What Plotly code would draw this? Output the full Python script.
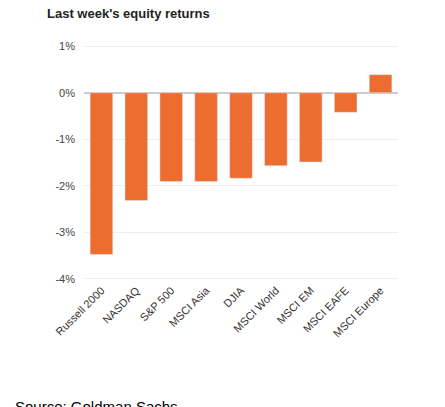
import plotly.graph_objects as go

categories = ["Russell 2000", "NASDAQ", "S&P 500", "MSCI Asia", "DJIA", "MSCI World", "MSCI EM", "MSCI EAFE", "MSCI Europe"]
returns = [-3.48, -2.32, -1.91, -1.91, -1.84, -1.57, -1.49, -0.42, 0.39]
tick_vals = [1, 0, -1, -2, -3, -4]
tick_text = ["1%", "0%", "-1%", "-2%", "-3%", "-4%"]

fig = go.Figure(go.Bar(x=categories, y=returns, marker_color="#ED6C30", width=0.65))
fig.update_layout(
    width=445, height=407, plot_bgcolor="white", paper_bgcolor="white",
    margin=dict(l=76, r=55, t=36, b=134), showlegend=False,
    font=dict(family="Arial, Liberation Sans", color="#333"),
)
fig.add_annotation(text="<b>Last week's equity returns</b>", xref="paper", yref="paper",
                   x=-0.123, y=1.13, xanchor="left", yanchor="middle", showarrow=False,
                   font=dict(size=13, color="#222", family="Arial, Liberation Sans"))
fig.add_annotation(text="Source: Goldman Sachs", xref="paper", yref="paper",
                   x=-0.225, y=-0.53, xanchor="left", yanchor="middle", showarrow=False,
                   font=dict(size=15, color="#000", family="Arial, Liberation Sans"))
fig.update_yaxes(range=[-4.05, 1.05], tickvals=tick_vals, ticktext=tick_text,
                 gridcolor="#eeeeee", zeroline=True, zerolinecolor="#cccccc", zerolinewidth=1.5,
                 tickfont=dict(size=11, color="#444"), ticks="", showline=False, ticklabelstandoff=8)
fig.update_xaxes(tickangle=-45, tickfont=dict(size=11, color="#333"), showline=False, ticks="")
fig.write_html("out.html")
